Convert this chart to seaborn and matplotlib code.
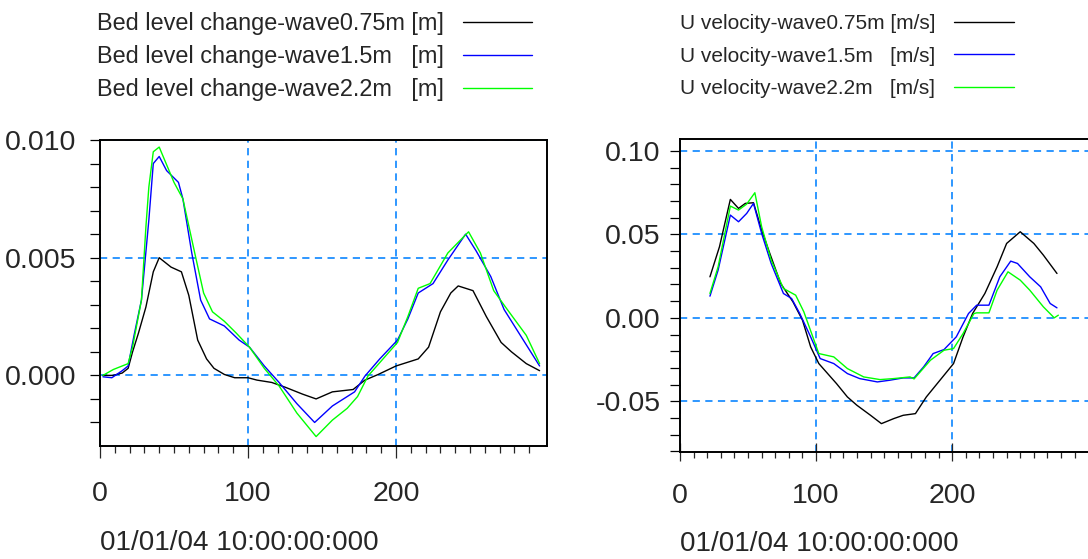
import matplotlib
matplotlib.use("Agg")
import matplotlib.pyplot as plt
import seaborn as sns
import numpy as np
import pandas as pd

# ---- data ----
bed_labels = ["Bed level change-wave0.75m [m]",
              "Bed level change-wave1.5m   [m]",
              "Bed level change-wave2.2m   [m]"]
vel_labels = ["U velocity-wave0.75m [m/s]",
              "U velocity-wave1.5m   [m/s]",
              "U velocity-wave2.2m   [m/s]"]
colors = ["black", "#0000ff", "#00ff00"]

bed_x_075 = [2, 9, 15, 19, 22, 26, 31, 36, 40, 48, 55, 60, 66, 72, 77, 84, 91, 100, 106, 116,
             125, 137, 146, 157, 171, 179, 188, 200, 215, 222, 230, 237, 242, 252, 261, 271,
             278, 288, 297]
bed_y_075 = [0, 0, 0.0001, 0.0003, 0.001, 0.0018, 0.0029, 0.0044, 0.005, 0.0046, 0.0044,
             0.0034, 0.0015, 0.0007, 0.0003, 0.00004, -0.0001, -0.0001, -0.0002, -0.0003,
             -0.0005, -0.0008, -0.001, -0.0007, -0.0006, -0.0002, 0.00004, 0.0004, 0.0007,
             0.0012, 0.0027, 0.0035, 0.0038, 0.0036, 0.0025, 0.0014, 0.001, 0.0005, 0.0002]

bed_x_15 = [2, 8, 15, 19, 23, 28, 33, 36, 40, 45, 53, 56, 62, 68, 74, 84, 94, 101, 111, 121,
            133, 145, 157, 172, 179, 189, 201, 208, 215, 225, 235, 247, 254, 264, 273, 283,
            290, 297]
bed_y_15 = [-0.00006, -0.0001, 0.0002, 0.0004, 0.0017, 0.0032, 0.0066, 0.009, 0.0093, 0.0087,
            0.0082, 0.0075, 0.0052, 0.0032, 0.0024, 0.0021, 0.0015, 0.0012, 0.0004, -0.0003,
            -0.0012, -0.002, -0.0013, -0.0007, -0.00003, 0.0007, 0.0015, 0.0024, 0.0035,
            0.0039, 0.0049, 0.006, 0.0053, 0.0042, 0.0028, 0.0018, 0.0011, 0.0004]

bed_x_22 = [2, 9, 19, 22, 28, 31, 33, 36, 40, 44, 50, 56, 64, 70, 76, 84, 92, 101, 111, 121,
            133, 146, 157, 167, 174, 181, 201, 208, 215, 223, 235, 249, 257, 266, 274, 288, 297]
bed_y_22 = [0, 0.00025, 0.0005, 0.0012, 0.0032, 0.0063, 0.008, 0.0095, 0.0097, 0.0091,
            0.0082, 0.0075, 0.0052, 0.0035, 0.0027, 0.0023, 0.0018, 0.0012, 0.0003, -0.00045,
            -0.0016, -0.0026, -0.0019, -0.0014, -0.0009, -0.00003, 0.0014, 0.0025, 0.0037,
            0.0039, 0.0052, 0.0061, 0.0052, 0.0036, 0.0029, 0.0017, 0.0005]

vel_x_075 = [22, 29, 37, 43, 48, 54, 60, 66, 74, 83, 90, 96, 102, 115, 123, 130, 140, 148,
             157, 164, 173, 181, 191, 201, 208, 215, 224, 233, 240, 250, 260, 267, 277]
vel_y_075 = [0.0246, 0.0426, 0.071, 0.0656, 0.0686, 0.069, 0.0526, 0.0386, 0.0206, 0.0096,
             -0.0014, -0.0174, -0.0274, -0.0394, -0.0474, -0.0524, -0.0584, -0.0634, -0.0604,
             -0.0584, -0.0574, -0.0474, -0.0374, -0.0274, -0.0114, 0.0026, 0.0146, 0.0306,
             0.0446, 0.0516, 0.0446, 0.0376, 0.0266]

vel_x_15 = [22, 28, 37, 43, 49, 54, 60, 67, 76, 82, 88, 96, 103, 113, 123, 132, 145, 154,
            164, 172, 179, 186, 194, 203, 212, 218, 227, 235, 243, 248, 257, 265, 272, 277]
vel_y_15 = [0.013, 0.0286, 0.0616, 0.0576, 0.0626, 0.0686, 0.0506, 0.0326, 0.0146, 0.0116,
            0.0026, -0.0114, -0.0244, -0.0274, -0.0334, -0.0364, -0.0384, -0.0374, -0.036,
            -0.036, -0.0294, -0.0214, -0.019, -0.0114, 0.0026, 0.0076, 0.0076, 0.0246, 0.034,
            0.0326, 0.0246, 0.0186, 0.0086, 0.006]

vel_x_22 = [22, 28, 37, 43, 49, 55, 60, 67, 76, 85, 91, 102, 113, 123, 135, 147, 157, 169,
            172, 184, 194, 201, 208, 216, 218, 227, 233, 241, 250, 257, 267, 275, 278]
vel_y_22 = [0.0146, 0.0306, 0.067, 0.0646, 0.0682, 0.075, 0.0546, 0.0346, 0.0176, 0.0136,
            0.0036, -0.0214, -0.0234, -0.0304, -0.0354, -0.037, -0.0364, -0.0354, -0.0366,
            -0.0254, -0.0194, -0.0184, -0.0094, 0.0026, 0.003, 0.003, 0.0166, 0.0276, 0.0226,
            0.0166, 0.0066, 0.0, 0.0016]

xlabel = "01/01/04 10:00:00:000"

# ---- style ----
sns.set_style("ticks")
plt.rcParams["font.family"] = ["Liberation Sans", "DejaVu Sans"]
grid_kw = dict(color="#1e8fff", linestyle=(0, (4, 3)), linewidth=1.3)

fig = plt.figure(figsize=(10.88, 5.59), dpi=100)
ax1 = fig.add_axes([100 / 1088, 1 - 446 / 559, 447 / 1088, 306 / 559])
ax2 = fig.add_axes([680 / 1088, 1 - 452 / 559, 411 / 1088, 313 / 559])

bed_series = [(bed_x_075, bed_y_075), (bed_x_15, bed_y_15), (bed_x_22, bed_y_22)]
vel_series = [(vel_x_075, vel_y_075), (vel_x_15, vel_y_15), (vel_x_22, vel_y_22)]

for ax, series, labels in [(ax1, bed_series, bed_labels), (ax2, vel_series, vel_labels)]:
    for (xs, ys), lab, c in zip(series, labels, colors):
        sns.lineplot(x=xs, y=ys, ax=ax, color=c, linewidth=1.0, label=lab,
                     sort=False, estimator=None)
    ax.get_legend().remove()
    ax.set_xlim(0, 302)
    ax.set_xticks([0, 100, 200])
    ax.set_xticks(np.arange(0, 300, 10), minor=True)
    ax.grid(True, which="major", **grid_kw)
    ax.set_axisbelow(True)
    for s in ax.spines.values():
        s.set_linewidth(1.4)
        s.set_color("black")
    ax.tick_params(axis="y", which="both", direction="out", length=7, width=0.9,
                   labelsize=20.5, color="black")
    ax.set_xlabel(xlabel, loc="left", fontsize=20, labelpad=16)

# left panel
ax1.set_ylim(-0.003, 0.010)
ax1.set_yticks([0.0, 0.005, 0.010])
ax1.set_yticklabels(["0.000", "0.005", "0.010"])
ax1.set_yticks(np.arange(-0.002, 0.0101, 0.001), minor=True)
ax1.tick_params(axis="y", which="both", pad=10)
ax1.tick_params(axis="x", which="major", direction="out", length=8.5, width=0.9,
                labelsize=20.5, pad=17)
ax1.tick_params(axis="x", which="minor", direction="out", length=5, width=0.9)

# right panel
ax2.set_ylim(-0.0804, 0.1072)
ax2.set_yticks([-0.05, 0.0, 0.05, 0.10])
ax2.set_yticklabels(["-0.05", "0.00", "0.05", "0.10"])
ax2.set_yticks(np.arange(-0.08, 0.1001, 0.01), minor=True)
ax2.tick_params(axis="y", which="both", pad=7)
ax2.tick_params(axis="x", which="major", direction="inout", length=13, width=0.9,
                labelsize=20.5, pad=16)
ax2.tick_params(axis="x", which="minor", direction="out", length=4, width=0.9)

leg_kw = dict(loc="upper left", frameon=False, markerfirst=False,
              borderpad=0, borderaxespad=0)
fig.legend(handles=ax1.get_lines()[:3], labels=bed_labels, fontsize=16.9,
           labelspacing=0.42, handletextpad=0.8, handlelength=2.95,
           bbox_to_anchor=(97 / 1088, 1 - 12 / 559), **leg_kw)
fig.legend(handles=ax2.get_lines()[:3], labels=vel_labels, fontsize=15.0,
           labelspacing=0.66, handletextpad=0.9, handlelength=2.85,
           bbox_to_anchor=(680 / 1088, 1 - 14 / 559), **leg_kw)

fig.savefig("out.png", dpi=100)
